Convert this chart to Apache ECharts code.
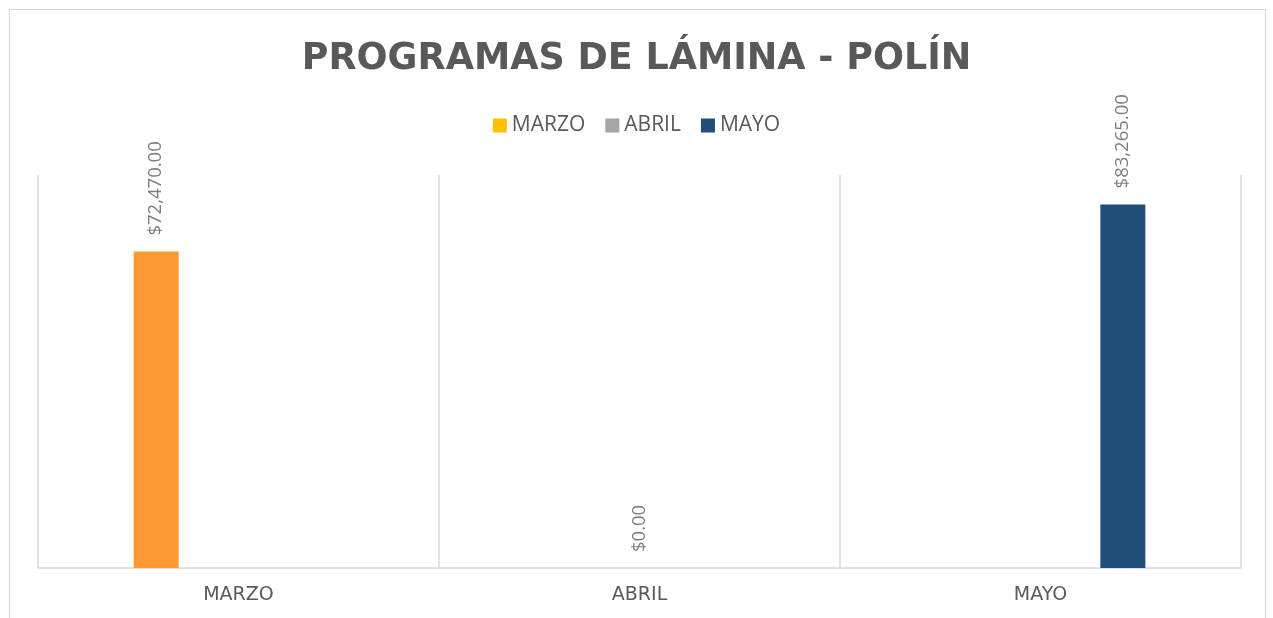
<!DOCTYPE html>
<html>
<head>
<meta charset="utf-8">
<script src="https://cdn.jsdelivr.net/npm/echarts@6/dist/echarts.min.js"></script>
<style>
  html, body { margin: 0; padding: 0; background: #fff; }
  #frame { position: absolute; left: 9px; top: 9px; width: 1257px; height: 620px; border: 1px solid #d9d9d9; box-sizing: border-box; }
  #chart { position: absolute; left: 0; top: 0; width: 1273px; height: 618px; }
</style>
</head>
<body>
<div id="frame"></div>
<div id="chart"></div>
<script>
// data
const categories = ['MARZO', 'ABRIL', 'MAYO'];
const seriesNames = ['MARZO', 'ABRIL', 'MAYO'];
const marzoValues = [72470, '-', '-'];
const abrilValues = ['-', 0, '-'];
const mayoValues = ['-', '-', 83265];

const textColor = '#595959';
const labelColor = '#7f7f7f';
const lineColor = '#d9d9d9';

function money(v) {
  return '$' + Number(v).toLocaleString('en-US', { minimumFractionDigits: 2, maximumFractionDigits: 2 });
}

const valueLabel = {
  show: true,
  position: 'top',
  rotate: 90,
  align: 'left',
  verticalAlign: 'middle',
  distance: 16,
  color: labelColor,
  fontFamily: 'Open Sans',
  fontSize: 18.5,
  formatter: (p) => money(p.value)
};

let chart = echarts.init(document.getElementById('chart'), null, { renderer: 'canvas' });
chart.setOption({
  animation: false,
  title: {
    text: 'PROGRAMAS DE LÁMINA - POLÍN',
    left: 'center',
    top: 36,
    textStyle: {
      color: textColor,
      fontFamily: 'DejaVu Sans',
      fontWeight: 'bold',
      fontSize: 36.5
    }
  },
  legend: {
    top: 110,
    left: 'center',
    itemWidth: 14,
    itemHeight: 14,
    itemGap: 20,
    icon: 'rect',
    textStyle: {
      color: textColor,
      fontFamily: 'Open Sans',
      fontSize: 21
    },
    data: seriesNames
  },
  grid: {
    left: 38,
    right: 32,
    top: 175,
    bottom: 50,
    containLabel: false
  },
  xAxis: {
    type: 'category',
    data: categories,
    axisLine: { lineStyle: { color: lineColor, width: 1.5 } },
    axisTick: { show: false },
    splitLine: { show: true, lineStyle: { color: lineColor, width: 1.5 } },
    axisLabel: {
      color: textColor,
      fontFamily: 'DejaVu Sans',
      fontSize: 19,
      margin: 18
    }
  },
  yAxis: {
    type: 'value',
    min: 0,
    max: 90000,
    show: false,
    splitLine: { show: false }
  },
  series: [
    {
      name: seriesNames[0],
      type: 'bar',
      barWidth: 45,
      barGap: '83%',
      itemStyle: { color: '#FFC000' },
      data: marzoValues.map((v) => (v === '-' ? v : { value: v, itemStyle: { color: '#FF9933' } })),
      label: valueLabel
    },
    {
      name: seriesNames[1],
      type: 'bar',
      barWidth: 45,
      barGap: '83%',
      itemStyle: { color: '#A5A5A5' },
      data: abrilValues,
      label: valueLabel
    },
    {
      name: seriesNames[2],
      type: 'bar',
      barWidth: 45,
      barGap: '83%',
      itemStyle: { color: '#1F4E79' },
      data: mayoValues,
      label: valueLabel
    }
  ]
});
</script>
</body>
</html>
